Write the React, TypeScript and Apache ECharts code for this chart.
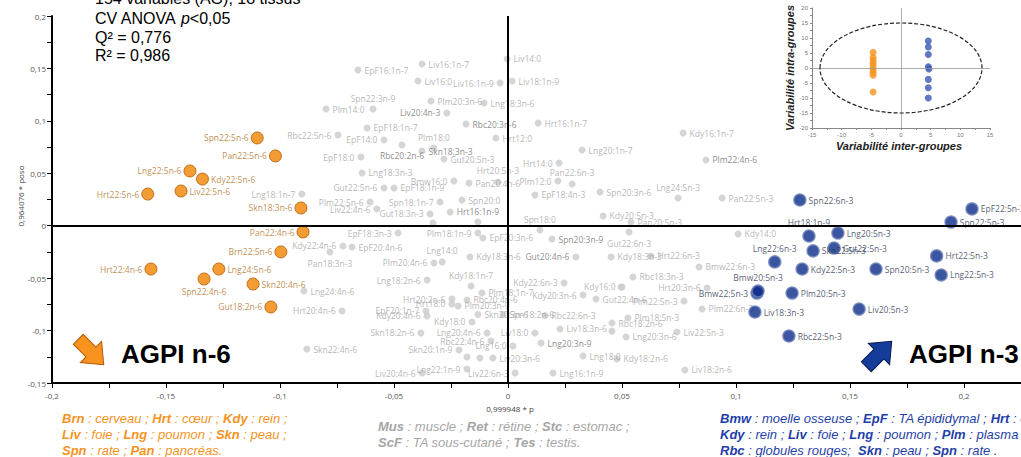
import React, { useEffect, useRef } from 'react';
import * as echarts from 'echarts';

// ---- n-6 (orange) significant variables
const n6Names = ['Spn22:5n-6', 'Pan22:5n-6', 'Lng22:5n-6', 'Kdy22:5n-6', 'Hrt22:5n-6', 'Liv22:5n-6', 'Skn18:3n-6', 'Pan22:4n-6', 'Brn22:5n-6', 'Hrt22:4n-6', 'Lng24:5n-6', 'Spn22:4n-6', 'Skn20:4n-6', 'Gut18:2n-6'];
const n6X = [-0.110, -0.102, -0.1395, -0.134, -0.158, -0.1434, -0.0908, -0.0899, -0.0996, -0.1566, -0.1268, -0.1333, -0.1118, -0.104];
const n6Y = [0.0837, 0.0665, 0.0522, 0.0445, 0.0302, 0.0331, 0.0169, -0.006, -0.025, -0.0413, -0.0413, -0.0508, -0.0556, -0.0775];
const n6Side = ['left', 'left', 'left', 'right', 'left', 'right', 'left', 'left', 'left', 'left', 'right', 'bottom', 'right', 'left'];

// ---- n-3 (blue) significant variables
const n3Names = ['Spn22:6n-3', 'EpF22:5n-3', 'Spn22:5n-3', 'Hrt18:1n-9', 'Lng20:5n-3', 'Lng22:6n-3', 'Skn22:5n-3', 'Gut22:5n-3', 'Hrt22:5n-3', 'Kdy22:5n-3', 'Spn20:5n-3', 'Lng22:5n-3', 'Bmw22:5n-3', 'Bmw20:5n-3', 'Plm20:5n-3', 'Liv18:3n-3', 'Liv20:5n-3', 'Rbc22:5n-3'];
const n3X = [0.128, 0.2035, 0.1943, 0.132, 0.1447, 0.117, 0.1338, 0.143, 0.188, 0.129, 0.1614, 0.190, 0.1092, 0.1097, 0.1246, 0.1083, 0.154, 0.1232];
const n3Y = [0.0245, 0.016, 0.0035, -0.0098, -0.007, -0.0345, -0.024, -0.0213, -0.0288, -0.0413, -0.0413, -0.047, -0.0642, -0.0623, -0.0642, -0.0823, -0.0795, -0.1052];
const n3Side = ['right', 'right', 'right', 'top', 'right', 'top', 'right', 'right', 'right', 'right', 'right', 'right', 'left', 'top', 'right', 'right', 'right', 'right'];

// ---- other (grey) variables
const otherNames = ['EpF16:1n-7', 'Liv16:1n-7', 'Liv14:0', 'Liv16:0', 'Liv16:1n-9', 'Liv18:1n-9', 'Spn22:3n-9', 'Plm14:0', 'Plm20:3n-6', 'Lng18:3n-6',
  'Liv20:4n-3', 'Rbc20:3n-6', 'Hrt16:1n-7', 'EpF18:1n-7', 'Rbc22:5n-6', 'EpF14:0', 'Rbc20:2n-6', 'Plm18:0', 'Skn18:3n-3', 'Hrt12:0',
  'Lng20:1n-7', 'EpF18:0', 'Gut20:5n-3', 'Hrt14:0', 'Lng18:3n-3', 'Pan20:4n-6', 'Hrt20:5n-3', 'Plm12:0', 'Pan22:6n-3', 'EpF18:4n-3',
  'Spn20:3n-6', 'Gut22:5n-6', 'EpF18:1n-9', 'Bmw16:0', 'Spn18:1n-7', 'Plm22:5n-6', 'Liv22:4n-6', 'Lng18:1n-7', 'Gut18:3n-3', 'Spn20:0',
  'Spn18:0', 'Hrt16:1n-9', 'Kdy20:5n-3', 'Pan20:5n-3', 'Lng24:5n-3', 'Pan22:5n-3', 'Plm22:4n-6', 'Kdy16:1n-7', 'Kdy14:0', 'Gut22:6n-3',
  'Hrt22:6n-3', 'Kdy18:3n-3', 'Bmw22:6n-3', 'Rbc18:3n-3', 'Hrt20:3n-6', 'Plm22:5n-3', 'Plm22:6n-3', 'Gut22:4n-6', 'Rbc18:2n-6', 'Plm18:5n-3',
  'Liv22:5n-3', 'Lng20:3n-6', 'Kdy18:2n-6', 'Lng18:0', 'Liv18:2n-6', 'EpF18:3n-3', 'Plm18:1n-9', 'EpF20:3n-6', 'Spn20:3n-9', 'Kdy22:4n-6',
  'EpF20:4n-6', 'Pan18:3n-3', 'Plm20:4n-6', 'Lng14:0', 'Kdy18:3n-6', 'Gut20:4n-6', 'Kdy18:1n-7', 'Lng18:2n-6', 'Kdy22:6n-3', 'Kdy16:0',
  'Plm18:1n-7', 'Kdy20:3n-6', 'Hrt20:2n-6', 'Hrt18:0', 'Rbc20:4n-6', 'Plm20:3n-9', 'EpF20:1n-7', 'Kdy20:4n-6', 'Skn20:3n-6', 'Spn18:2n-6',
  'Rbc22:6n-3', 'Kdy18:0', 'Skn18:2n-6', 'Lng20:4n-6', 'Rbc22:4n-6', 'Liv18:0', 'Lng16:0', 'Liv18:3n-6', 'Lng20:3n-9', 'Skn20:1n-9',
  'Skn22:4n-6', 'Liv20:3n-6', 'Liv20:4n-6', 'Lng22:1n-9', 'Liv22:6n-3', 'Lng16:1n-9', 'Lng24:4n-6', 'Hrt20:4n-6', '', '',
  '', '', '', ''];
const otherX = [-0.0658, -0.0377, -0.0004, -0.0395, -0.0035, 0.0018, -0.0592, -0.0798, -0.0338, -0.0105,
  -0.0268, -0.0184, 0.0132, -0.0618, -0.0746, -0.0544, -0.0465, -0.0325, -0.0377, -0.0053,
  0.0325, -0.0645, -0.0281, 0.0224, -0.064, -0.0171, -0.0044, 0.0219, 0.0281, 0.0118,
  0.0404, -0.0544, -0.05, -0.0237, -0.0298, -0.0605, -0.0575, -0.0904, -0.0342, -0.0202,
  0.014, -0.0132, 0.0417, 0.0539, 0.0746, 0.0939, 0.0868, 0.0768, 0.1009, 0.0531,
  0.0627, 0.0452, 0.0838, 0.0548, 0.0873, 0.0772, 0.0851, 0.0386, 0.0456, 0.0526,
  0.0741, 0.0518, 0.0478, 0.0329, 0.0776, -0.0482, -0.0132, -0.011, 0.0193, -0.0724,
  -0.0684, -0.0781, -0.0325, -0.0289, -0.0167, 0.0298, -0.0162, -0.0355, 0.0246, 0.05,
  -0.0114, 0.0329, -0.0246, -0.0246, -0.018, -0.0219, -0.036, -0.0355, -0.0132, -0.0022,
  0.0162, -0.0158, -0.0382, -0.0092, -0.0075, 0.0118, 0.0022, 0.0228, 0.0145, -0.0215,
  -0.0882, -0.0066, -0.0377, -0.018, 0.0031, 0.0197, -0.0895, -0.0728, 0.0496, 0.0456,
  -0.0254, -0.018, -0.0123, -0.0329];
const otherY = [0.1485, 0.1542, 0.159, 0.138, 0.1361, 0.138, 0.1113, 0.1113, 0.1189, 0.117,
  0.1075, 0.097, 0.0979, 0.0932, 0.0865, 0.0818, 0.077, 0.0741, 0.0712, 0.0836,
  0.0722, 0.0655, 0.0636, 0.0598, 0.0503, 0.0407, 0.0417, 0.0426, 0.0398, 0.0293,
  0.0321, 0.036, 0.036, 0.0426, 0.0226, 0.0226, 0.0159, 0.0302, 0.0112, 0.0245,
  -0.0041, 0.0035, 0.0093, 0.0035, 0.0264, 0.0264, 0.0627, 0.0884, -0.0079, -0.006,
  -0.0288, -0.0298, -0.0393, -0.0489, -0.0594, -0.0718, -0.0794, -0.0699, -0.0928, -0.088,
  -0.1014, -0.1061, -0.1271, -0.1243, -0.1376, -0.007, -0.007, -0.0117, -0.0127, -0.0193,
  -0.0203, -0.0251, -0.0355, -0.0345, -0.0298, -0.0298, -0.0575, -0.0518, -0.0546, -0.0584,
  -0.0641, -0.0661, -0.0699, -0.0746, -0.0708, -0.0765, -0.0813, -0.0861, -0.0846, -0.0846,
  -0.0856, -0.0918, -0.1023, -0.1023, -0.11, -0.1023, -0.1147, -0.0985, -0.1119, -0.1185,
  -0.1176, -0.1262, -0.1405, -0.1367, -0.1405, -0.1405, -0.0623, -0.0813, -0.0584, -0.1005,
  0.0131, -0.1252, -0.1262, 0.0026];
const otherSide = ['right', 'right', 'right', 'right', 'left', 'right', 'top', 'right', 'right', 'right',
  'left', 'right', 'right', 'right', 'left', 'left', 'bottom', 'top', 'right', 'right',
  'right', 'left', 'right', 'left', 'right', 'right', 'top', 'left', 'top', 'right',
  'right', 'left', 'right', 'left', 'left', 'left', 'left', 'left', 'left', 'right',
  'top', 'top', 'right', 'right', 'top', 'right', 'right', 'right', 'right', 'bottom',
  'right', 'right', 'right', 'right', 'left', 'left', 'right', 'right', 'right', 'right',
  'right', 'right', 'right', 'right', 'right', 'left', 'left', 'right', 'right', 'left',
  'right', 'bottom', 'left', 'top', 'right', 'left', 'top', 'left', 'left', 'left',
  'right', 'left', 'left', 'left', 'right', 'right', 'left', 'left', 'right', 'right',
  'right', 'left', 'left', 'left', 'left', 'left', 'left', 'right', 'right', 'left',
  'right', 'right', 'left', 'left', 'left', 'right', 'right', 'left', 'right', 'right',
  'right', 'right', 'right', 'right'];
const darkerLabels = ['Liv20:4n-3', 'Rbc20:3n-6', 'Rbc20:2n-6', 'Skn18:3n-3', 'Gut20:4n-6', 'Plm22:4n-6', 'Lng20:3n-9', 'Spn20:3n-9', 'Hrt16:1n-9'];

// ---- inset (group variability)
const insetN6X = [-4.7, -4.7, -4.7, -4.7, -4.7, -4.7, -4.7, -4.7, -4.7];
const insetN6Y = [5.2, 3.6, 2.6, 1.6, 0.6, -0.5, -1.4, -2.4, -8];
const insetN3X = [4.6, 4.6, 4.6, 4.6, 4.7, 4.6, 4.6, 4.6];
const insetN3Y = [9, 7, 4.5, 0.4, -0.3, -3.8, -6.6, -10];

const xTickStep = 0.05;

const fmt = (v: number) => String(Math.round(v * 1000) / 1000).replace('.', ',');

function build(names: string[], xs: number[], ys: number[], sides: string[], dark?: string[]) {
  return names.map((n, i) => ({
    name: n,
    value: [xs[i], ys[i]],
    label: {
      position: sides[i],
      color: dark && dark.includes(n) ? '#6e6e6e' : undefined,
    },
  }));
}

export default function App() {
  const ref = useRef<HTMLDivElement>(null);
  useEffect(() => {
    if (!ref.current) return;
    const chart = echarts.init(ref.current, null, { renderer: 'svg' });
    const lblFont = 'Open Sans';
    const legendText = (x: number, y: number, text: string, color: string) => ({
      type: 'text', x, y,
      style: {
        text, fill: color, fontSize: 13, fontFamily: 'Liberation Sans', fontStyle: 'italic',
        verticalAlign: 'middle', align: 'left',
        rich: { b: { fontWeight: 'bold', fontStyle: 'italic', fill: color, fontSize: 13, fontFamily: 'Liberation Sans' } },
      },
    });
    const arrowPts = [[-18, -7], [0, -7], [0, -15], [18, 0], [0, 15], [0, 7], [-18, 7]];
    chart.setOption({
      animation: false,
      backgroundColor: '#fff',
      grid: [
        { left: 52, right: 0, top: 16, bottom: 74 },
        { left: 812, top: 8, width: 178, height: 120 },
      ],
      xAxis: [
        {
          type: 'value', min: -0.2, max: 0.225, interval: xTickStep, gridIndex: 0,
          axisLine: { onZero: false, lineStyle: { color: '#000', width: 2 } },
          axisTick: { show: true, length: 5, lineStyle: { color: '#000' } },
          minorTick: { show: true, splitNumber: 2, length: 5, lineStyle: { color: '#000' } },
          splitLine: { show: false },
          axisLabel: { fontSize: 8, color: '#555', margin: 8, formatter: fmt, showMaxLabel: false, fontFamily: lblFont },
        },
        {
          type: 'value', min: -15, max: 15, interval: 5, gridIndex: 1,
          axisLine: { onZero: false, lineStyle: { color: '#888', width: 1 } },
          axisTick: { show: true, length: 2, lineStyle: { color: '#888' } },
          minorTick: { show: true, splitNumber: 2, length: 2, lineStyle: { color: '#888' } },
          splitLine: { show: false },
          axisLabel: { fontSize: 6, color: '#777', margin: 4 },
        },
      ],
      yAxis: [
        {
          type: 'value', min: -0.15, max: 0.2, interval: 0.05, gridIndex: 0,
          axisLine: { onZero: false, lineStyle: { color: '#000', width: 2 } },
          axisTick: { show: true, length: 5, lineStyle: { color: '#000' } },
          minorTick: { show: true, splitNumber: 2, length: 5, lineStyle: { color: '#000' } },
          splitLine: { show: false },
          axisLabel: { fontSize: 8, color: '#555', margin: 6, formatter: fmt, fontFamily: lblFont },
        },
        {
          type: 'value', min: -20, max: 20, interval: 5, gridIndex: 1,
          axisLine: { onZero: false, lineStyle: { color: '#888', width: 1 } },
          axisTick: { show: true, length: 2, lineStyle: { color: '#888' } },
          minorTick: { show: true, splitNumber: 2, length: 2, lineStyle: { color: '#888' } },
          splitLine: { show: false },
          axisLabel: { fontSize: 6, color: '#777', margin: 4 },
        },
      ],
      series: [
        {
          type: 'scatter', xAxisIndex: 0, yAxisIndex: 0, symbolSize: 7,
          itemStyle: { color: '#cbcbcb' },
          label: { show: true, formatter: '{b}', fontSize: 8.5, fontFamily: lblFont, color: '#a3a3a3', distance: 3 },
          data: build(otherNames, otherX, otherY, otherSide, darkerLabels),
          markLine: {
            silent: true, symbol: 'none', label: { show: false },
            lineStyle: { color: '#000', width: 2, type: 'solid' },
            data: [{ xAxis: 0 }, { yAxis: 0 }],
          },
          z: 2,
        },
        {
          type: 'scatter', xAxisIndex: 0, yAxisIndex: 0, symbolSize: 12,
          itemStyle: { color: '#f08300', borderColor: '#b45a00', borderWidth: 1 },
          label: { show: true, formatter: '{b}', fontSize: 8.5, fontFamily: lblFont, color: '#b0701e', distance: 2 },
          data: build(n6Names, n6X, n6Y, n6Side),
          z: 4,
        },
        {
          type: 'scatter', xAxisIndex: 0, yAxisIndex: 0, symbolSize: 12,
          itemStyle: { color: '#0b2a88', borderColor: '#6e82b8', borderWidth: 1.5 },
          label: { show: true, formatter: '{b}', fontSize: 8.5, fontFamily: lblFont, color: '#2a3350', distance: 2 },
          data: build(n3Names, n3X, n3Y, n3Side),
          z: 4,
        },
        {
          type: 'scatter', xAxisIndex: 1, yAxisIndex: 1, symbolSize: 7,
          itemStyle: { color: '#f7931e' },
          data: insetN6X.map((x, i) => [x, insetN6Y[i]]),
          markLine: {
            silent: true, symbol: 'none', label: { show: false },
            lineStyle: { color: '#999', width: 0.8, type: 'solid' },
            data: [{ xAxis: 0 }, { yAxis: 0 }],
          },
        },
        {
          type: 'scatter', xAxisIndex: 1, yAxisIndex: 1, symbolSize: 7,
          itemStyle: { color: '#3a56b4' },
          data: insetN3X.map((x, i) => [x, insetN3Y[i]]),
        },
      ],
      graphic: [
        { type: 'text', x: 95, y: -2, style: { text: '154 variables (AG), 18 tissus', fill: '#000', fontSize: 16, fontFamily: 'Liberation Sans', verticalAlign: 'middle' } },
        {
          type: 'text', x: 95, y: 18,
          style: {
            text: 'CV ANOVA {i|p}<0,05', fill: '#000', fontSize: 16, fontFamily: 'Liberation Sans', verticalAlign: 'middle',
            rich: { i: { fontStyle: 'italic', fontSize: 16, fontFamily: 'Liberation Sans', fill: '#000' } },
          },
        },
        { type: 'text', x: 95, y: 37, style: { text: 'Q² = 0,776', fill: '#000', fontSize: 16, fontFamily: 'Liberation Sans', verticalAlign: 'middle' } },
        { type: 'text', x: 95, y: 55, style: { text: 'R² = 0,986', fill: '#000', fontSize: 16, fontFamily: 'Liberation Sans', verticalAlign: 'middle' } },
        { type: 'text', x: 510, y: 408, style: { text: '0,999948 * p', fill: '#444', fontSize: 8, fontFamily: lblFont, align: 'center', verticalAlign: 'middle' } },
        { type: 'text', x: 20, y: 196, rotation: Math.PI / 2, style: { text: '0,964076 * poso', fill: '#444', fontSize: 8, fontFamily: lblFont, align: 'center', verticalAlign: 'middle' } },
        { type: 'polygon', x: 91, y: 352, rotation: -Math.PI / 4, shape: { points: arrowPts }, style: { fill: '#f7931e', stroke: '#b35a00', lineWidth: 1 } },
        { type: 'polygon', x: 879, y: 354, rotation: Math.PI / 4, shape: { points: arrowPts }, style: { fill: '#143c9a', stroke: '#0a1a50', lineWidth: 1 } },
        { type: 'text', x: 121, y: 354, style: { text: 'AGPI n-6', fill: '#000', fontSize: 26, fontWeight: 'bold', fontFamily: 'Liberation Sans', verticalAlign: 'middle' } },
        { type: 'text', x: 909, y: 354, style: { text: 'AGPI n-3', fill: '#000', fontSize: 26, fontWeight: 'bold', fontFamily: 'Liberation Sans', verticalAlign: 'middle' } },
        { type: 'ellipse', shape: { cx: 901, cy: 68, rx: 81, ry: 45 }, style: { fill: 'none', stroke: '#222', lineWidth: 1.2, lineDash: [4, 2] }, z: 10 },
        { type: 'text', x: 899, y: 146, style: { text: 'Variabilité inter-groupes', fill: '#222', fontSize: 11, fontWeight: 'bold', fontStyle: 'italic', fontFamily: 'Liberation Sans', align: 'center', verticalAlign: 'middle' } },
        { type: 'text', x: 790, y: 68, rotation: Math.PI / 2, style: { text: 'Variabilité intra-groupes', fill: '#222', fontSize: 11, fontWeight: 'bold', fontStyle: 'italic', fontFamily: 'Liberation Sans', align: 'center', verticalAlign: 'middle' } },
        legendText(62, 418, '{b|Brn} : cerveau ; {b|Hrt} : cœur ; {b|Kdy} : rein ;', '#f7931e'),
        legendText(62, 434, '{b|Liv} : foie ; {b|Lng} : poumon ; {b|Skn} : peau ;', '#f7931e'),
        legendText(62, 450, '{b|Spn} : rate ; {b|Pan} : pancréas.', '#f7931e'),
        legendText(378, 426, '{b|Mus} : muscle ; {b|Ret} : rétine ; {b|Stc} : estomac ;', '#a6a6a6'),
        legendText(378, 442, '{b|ScF} : TA sous-cutané ; {b|Tes} : testis.', '#a6a6a6'),
        legendText(720, 418, '{b|Bmw} : moelle osseuse ; {b|EpF} : TA épididymal ; {b|Hrt} : cœur ;', '#1f3fa8'),
        legendText(720, 434, '{b|Kdy} : rein ; {b|Liv} : foie ; {b|Lng} : poumon ; {b|Plm} : plasma ;', '#1f3fa8'),
        legendText(720, 450, '{b|Rbc} : globules rouges;  {b|Skn} : peau ; {b|Spn} : rate .', '#1f3fa8'),
      ],
    });
    return () => chart.dispose();
  }, []);
  return <div ref={ref} style={{ position: 'absolute', left: 0, top: 0, width: 1021, height: 457 }} />;
}
